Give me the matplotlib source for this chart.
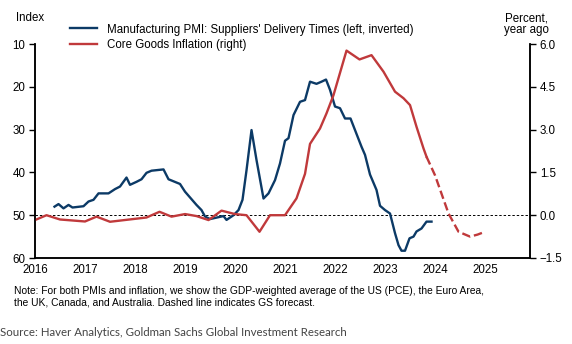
import matplotlib
matplotlib.use("Agg")
import matplotlib.pyplot as plt
import numpy as np

plt.rcParams["font.family"] = ["Liberation Sans", "DejaVu Sans"]

# Suppliers' delivery times index (left axis, inverted)
pmi_years = [2016.39, 2016.47, 2016.57, 2016.67, 2016.75, 2016.97, 2017.07, 2017.17,
             2017.27, 2017.47, 2017.6, 2017.7, 2017.83, 2017.9, 2018.03, 2018.13,
             2018.23, 2018.33, 2018.57, 2018.67, 2018.9, 2019.0, 2019.23, 2019.33,
             2019.4, 2019.5, 2019.77, 2019.83, 2019.97, 2020.07, 2020.15, 2020.23,
             2020.33, 2020.43, 2020.57, 2020.67, 2020.8, 2020.9, 2021.0, 2021.07,
             2021.17, 2021.3, 2021.4, 2021.5, 2021.63, 2021.73, 2021.82, 2021.9,
             2022.0, 2022.1, 2022.2, 2022.31, 2022.4, 2022.53, 2022.6, 2022.7,
             2022.83, 2022.9, 2023.0, 2023.1, 2023.2, 2023.27, 2023.33, 2023.4,
             2023.49, 2023.57, 2023.63, 2023.73, 2023.83, 2023.93]
pmi_vals = [48.0, 47.4, 48.4, 47.6, 48.2, 47.9, 46.8, 46.4,
            44.9, 44.9, 43.9, 43.3, 41.2, 42.9, 42.2, 41.6,
            40.1, 39.6, 39.3, 41.6, 42.7, 44.5, 47.6, 48.8,
            50.3, 50.9, 50.2, 51.1, 50.0, 48.8, 46.4, 39.5,
            30.1, 37.1, 46.1, 44.9, 41.8, 37.9, 32.6, 32.0,
            26.6, 23.5, 23.1, 18.8, 19.3, 18.8, 18.3, 20.7,
            24.6, 25.0, 27.4, 27.4, 30.1, 34.0, 35.9, 40.5,
            44.1, 47.8, 48.8, 49.6, 54.2, 57.0, 58.3, 58.3,
            55.4, 55.0, 53.8, 53.1, 51.5, 51.5]

# Core goods inflation, % yoy (right axis)
core_years = [2016.0, 2016.23, 2016.5, 2017.0, 2017.23, 2017.5, 2018.23, 2018.49,
              2018.73, 2019.0, 2019.23, 2019.47, 2019.73, 2020.0, 2020.23, 2020.49,
              2020.7, 2021.0, 2021.23, 2021.4, 2021.5, 2021.7, 2021.83, 2021.97,
              2022.23, 2022.49, 2022.73, 2022.97, 2023.2, 2023.37, 2023.5, 2023.63,
              2023.77, 2023.83]
core_vals = [-0.17, 0.0, -0.15, -0.22, -0.05, -0.23, -0.08, 0.12,
             -0.05, 0.04, -0.03, -0.17, 0.16, 0.04, 0.0, -0.58,
             0.0, 0.0, 0.59, 1.45, 2.5, 3.04, 3.57, 4.21,
             5.77, 5.46, 5.61, 5.03, 4.33, 4.10, 3.86, 3.10,
             2.34, 2.05]

# GS forecast path
fc_years = [2023.83, 2024.0, 2024.27, 2024.47, 2024.7, 2024.85, 2025.0]
fc_vals = [2.05, 1.4, 0.06, -0.58, -0.75, -0.68, -0.58]

year_ticks = list(range(2016, 2026))
left_ticks = [10, 20, 30, 40, 50, 60]
right_ticks = [6.0, 4.5, 3.0, 1.5, 0.0, -1.5]

navy = "#0c3a66"
red = "#c0393b"

fig = plt.figure(figsize=(5.72, 3.44), dpi=100)
ax = fig.add_axes([0.0612, 0.25, 0.8654, 0.622])
ax2 = ax.twinx()

ax.axhline(50, color="black", lw=0.7, ls=(0, (2.5, 2)), zorder=1)
l1, = ax.plot(pmi_years, pmi_vals, color=navy, lw=1.7, zorder=3,
              label="Manufacturing PMI: Suppliers' Delivery Times (left, inverted)")
l2, = ax2.plot(core_years, core_vals, color=red, lw=1.7, solid_joinstyle="round",
               label="Core Goods Inflation (right)")
ax2.plot(fc_years, fc_vals, color=red, lw=1.7, ls=(0, (3.6, 1.6)))

ax.set_xlim(2016, 2025.9)
ax.set_ylim(60, 10)
ax.set_yticks(left_ticks)
ax2.set_ylim(-1.5, 6.0)
ax2.set_yticks(right_ticks)
ax2.set_yticklabels([f"{v:.1f}".replace("-", "\u2212") for v in right_ticks])
ax.set_xticks(year_ticks)

for a in (ax, ax2):
    a.spines["top"].set_visible(False)
    for s in ("left", "right", "bottom"):
        a.spines[s].set_linewidth(1.1)
    a.tick_params(labelsize=8.3, width=1.0, length=4, colors="black")
ax.tick_params(axis="x", length=0, pad=4)
ax2.tick_params(axis="y", pad=3)
ax.tick_params(axis="y", pad=3)

fig.text(0.028, 0.948, "Index", fontsize=8.3, va="center")
fig.text(0.92, 0.93, "Percent,\nyear ago", fontsize=8.3, ha="center", va="center",
         linespacing=1.0)

fig.legend(handles=[l1, l2], loc="upper left", bbox_to_anchor=(0.115, 0.945),
           frameon=False, fontsize=8.3, handlelength=2.3, handletextpad=0.9,
           labelspacing=0.3, borderaxespad=0)

fig.text(0.024, 0.137, "Note: For both PMIs and inflation, we show the GDP-weighted average "
         "of the US (PCE), the Euro Area,\nthe UK, Canada, and Australia. Dashed line "
         "indicates GS forecast.", fontsize=7.4, va="center", linespacing=1.25)
fig.text(0.0, 0.032, "Source: Haver Analytics, Goldman Sachs Global Investment Research",
         fontsize=8.3, color="#444444", family=["Lato", "DejaVu Sans"], va="center")

fig.savefig("out.png", dpi=100)
